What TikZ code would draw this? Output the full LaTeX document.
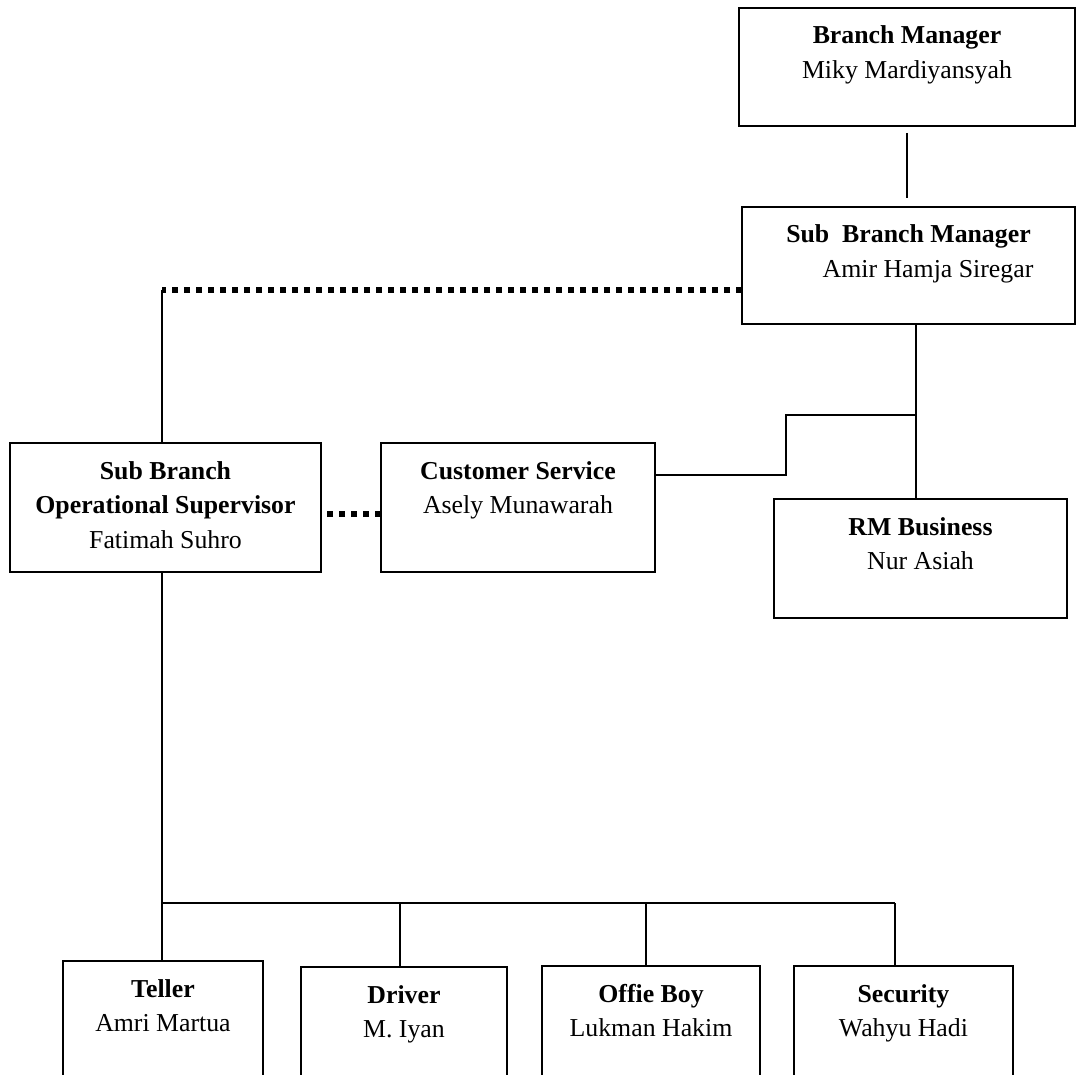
\documentclass[tikz,border=0pt]{standalone}
\usepackage{fontspec}
\setmainfont{Liberation Serif}
\newcommand{\boxtxt}[3]{\parbox[c][#2][t]{#1}{\fontsize{12.9pt}{17.25pt}\selectfont\centering\rule{0pt}{18pt}#3}}
\tikzset{
  orgbox/.style={draw, line width=1pt, inner sep=0pt, outer sep=0pt, anchor=north west},
  conn/.style={line width=1pt},
  dotline/.style={line width=2.75pt, dash pattern=on 3pt off 3pt}
}
\begin{document}
\begin{tikzpicture}[x=0.5pt, y=-0.5pt]
\useasboundingbox (0,0) rectangle (1076,1075);
\clip (0,0) rectangle (1076,1075);
% boxes
\node[orgbox] (bm) at (739,8) {\boxtxt{168pt}{59pt}{\textbf{Branch Manager}\\Miky Mardiyansyah}};
\node[orgbox] (sbm) at (742,207) {\boxtxt{166.5pt}{58.5pt}{\textbf{Sub\ \ Branch Manager}\\\hspace*{19.5pt}Amir Hamja Siregar}};
\node[orgbox] (sbos) at (10,443) {\boxtxt{155.5pt}{64.5pt}{\textbf{Sub Branch}\\\textbf{Operational Supervisor}\\Fatimah Suhro}};
\node[orgbox] (cs) at (381,443) {\boxtxt{137pt}{64.5pt}{\textbf{Customer Service}\\Asely Munawarah}};
\node[orgbox] (rm) at (774,499) {\boxtxt{146.5pt}{59.5pt}{\textbf{RM Business}\\Nur Asiah}};
\node[orgbox] (teller) at (63,961) {\boxtxt{100pt}{65pt}{\textbf{Teller}\\Amri Martua}};
\node[orgbox] (driver) at (301,967) {\boxtxt{103pt}{65pt}{\textbf{Driver}\\M. Iyan}};
\node[orgbox] (offie) at (542,966) {\boxtxt{109pt}{65pt}{\textbf{Offie Boy}\\Lukman Hakim}};
\node[orgbox] (security) at (794,966) {\boxtxt{109.5pt}{65pt}{\textbf{Security}\\Wahyu Hadi}};
% helper coordinates
\coordinate (dl) at (162,290);
\coordinate (k) at (786,415);
\coordinate (j) at (916,415);
\coordinate (b1) at (162,903);
\coordinate (b2) at (400,903);
\coordinate (b3) at (646,903);
\coordinate (b4) at (895,903);
% connectors
\draw[conn, shorten <=3.5pt, shorten >=4.5pt] (bm.south) -- (bm.south |- sbm.north);
\draw[dotline] ([yshift=-12.25pt]sbm.west) -- (dl);
\draw[conn] (dl) -- (dl |- sbos.north);
\draw[dotline] ([yshift=-3.25pt]cs.west) -- ([yshift=-3.25pt]sbos.east);
\draw[conn] (j |- sbm.south) -- (j |- rm.north);
\draw[conn] ([yshift=16.25pt]cs.east) -| (k) -- (j);
\draw[conn] (b1 |- sbos.south) -- (b1) -- (b4);
\draw[conn] (b1) -- (b1 |- teller.north);
\draw[conn] (b2) -- (b2 |- driver.north);
\draw[conn] (b3) -- (b3 |- offie.north);
\draw[conn] (b4) -- (b4 |- security.north);
\end{tikzpicture}
\end{document}
